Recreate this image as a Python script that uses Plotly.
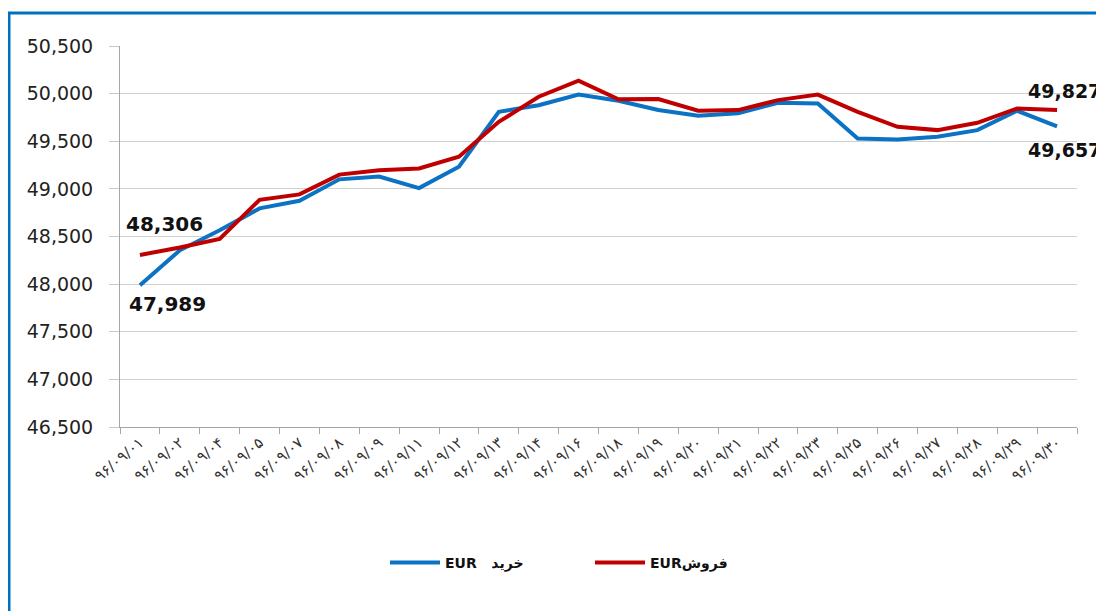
import plotly.graph_objects as go

# dates (Persian calendar, Persian digits)
days = ["۰۱", "۰۲", "۰۴", "۰۵", "۰۷", "۰۸", "۰۹", "۱۱", "۱۲", "۱۳", "۱۴", "۱۶",
        "۱۸", "۱۹", "۲۰", "۲۱", "۲۲", "۲۳", "۲۵", "۲۶", "۲۷", "۲۸", "۲۹", "۳۰"]
dates = ["۹۶/۰۹/" + d for d in days]

# buy price EUR
buy = [47989, 48355, 48565, 48795, 48875, 49100, 49130, 49008, 49232, 49809,
       49878, 49990, 49925, 49828, 49768, 49793, 49904, 49897, 49529, 49519,
       49547, 49617, 49820, 49657]

# sell price EUR
sell = [48306, 48385, 48475, 48885, 48942, 49150, 49195, 49215, 49337, 49704,
        49967, 50137, 49940, 49943, 49820, 49827, 49932, 49990, 49809, 49652,
        49617, 49694, 49844, 49827]

# the page body has an 8px margin, so the figure is drawn 8px in
OFF = 8
W, H = 1104 - OFF, 611 - OFF
L, R, T, B = 120 - OFF, 1077 - OFF, 46 - OFF, 427 - OFF


def px_x(p):
    # p in page pixels
    return (p - OFF - L) / (R - L)


def px_y(p):
    return (B - (p - OFF)) / (B - T)


fig = go.Figure()

fig.add_trace(go.Scatter(
    x=dates, y=buy, mode="lines", name="EUR   خرید",
    line=dict(color="#0B72C4", width=4),
))
fig.add_trace(go.Scatter(
    x=dates, y=sell, mode="lines", name="EURفروش",
    line=dict(color="#C00000", width=4),
))

# data labels at the ends
label_font = dict(family="DejaVu Sans", size=20, color="#111111")
end_font = dict(family="DejaVu Sans", size=19, color="#111111")
ends = [
    (dates[0], sell[0], f"<b>{sell[0]:,}</b>", 25, 31, label_font),
    (dates[0], buy[0], f"<b>{buy[0]:,}</b>", 28, -19, label_font),
    (dates[-1], sell[-1], f"<b>{sell[-1]:,}</b>", 7, 19, end_font),
    (dates[-1], buy[-1], f"<b>{buy[-1]:,}</b>", 7, -24, end_font),
]
for x, y, txt, dx, dy, f in ends:
    fig.add_annotation(x=x, y=y, text=txt, showarrow=False,
                       xshift=dx, yshift=dy, font=f)

# blue frame around the chart
fig.add_shape(type="rect", xref="paper", yref="paper",
              x0=px_x(9), x1=px_x(1130), y0=px_y(650), y1=px_y(13),
              line=dict(color="#0070C0", width=3), layer="below")

fig.update_layout(
    width=W, height=H,
    margin=dict(l=L, r=W - R, t=T, b=H - B, autoexpand=False),
    paper_bgcolor="white",
    plot_bgcolor="white",
    font=dict(family="DejaVu Sans", color="#222222"),
    showlegend=True,
    legend=dict(
        orientation="h",
        x=px_x(385), xanchor="left",
        y=px_y(563), yanchor="middle",
        font=dict(family="DejaVu Sans", size=14, color="#111111", weight="bold"),
        entrywidth=140,
        itemwidth=50,
    ),
    hovermode=False,
)

fig.update_xaxes(
    type="category",
    automargin=False,
    tickangle=-40,
    tickfont=dict(family="DejaVu Sans", size=15, color="#333333"),
    showline=True, linecolor="#A6A6A6", linewidth=1,
    ticks="outside", ticklen=6, tickcolor="#A6A6A6",
    tickson="boundaries",
    showgrid=False,
    range=[-0.5, len(dates) - 0.5],
)
fig.update_yaxes(
    automargin=False,
    range=[46500, 50500], dtick=500, tickformat=",",
    tickfont=dict(family="DejaVu Sans", size=19, color="#222222"),
    showline=True, linecolor="#A6A6A6", linewidth=1,
    ticks="outside", ticklen=10, tickcolor="#C8C8C8",
    ticklabelstandoff=12,
    showgrid=True, gridcolor="#D0D0D0", gridwidth=1,
    zeroline=False,
)

fig.write_html("out.html")
